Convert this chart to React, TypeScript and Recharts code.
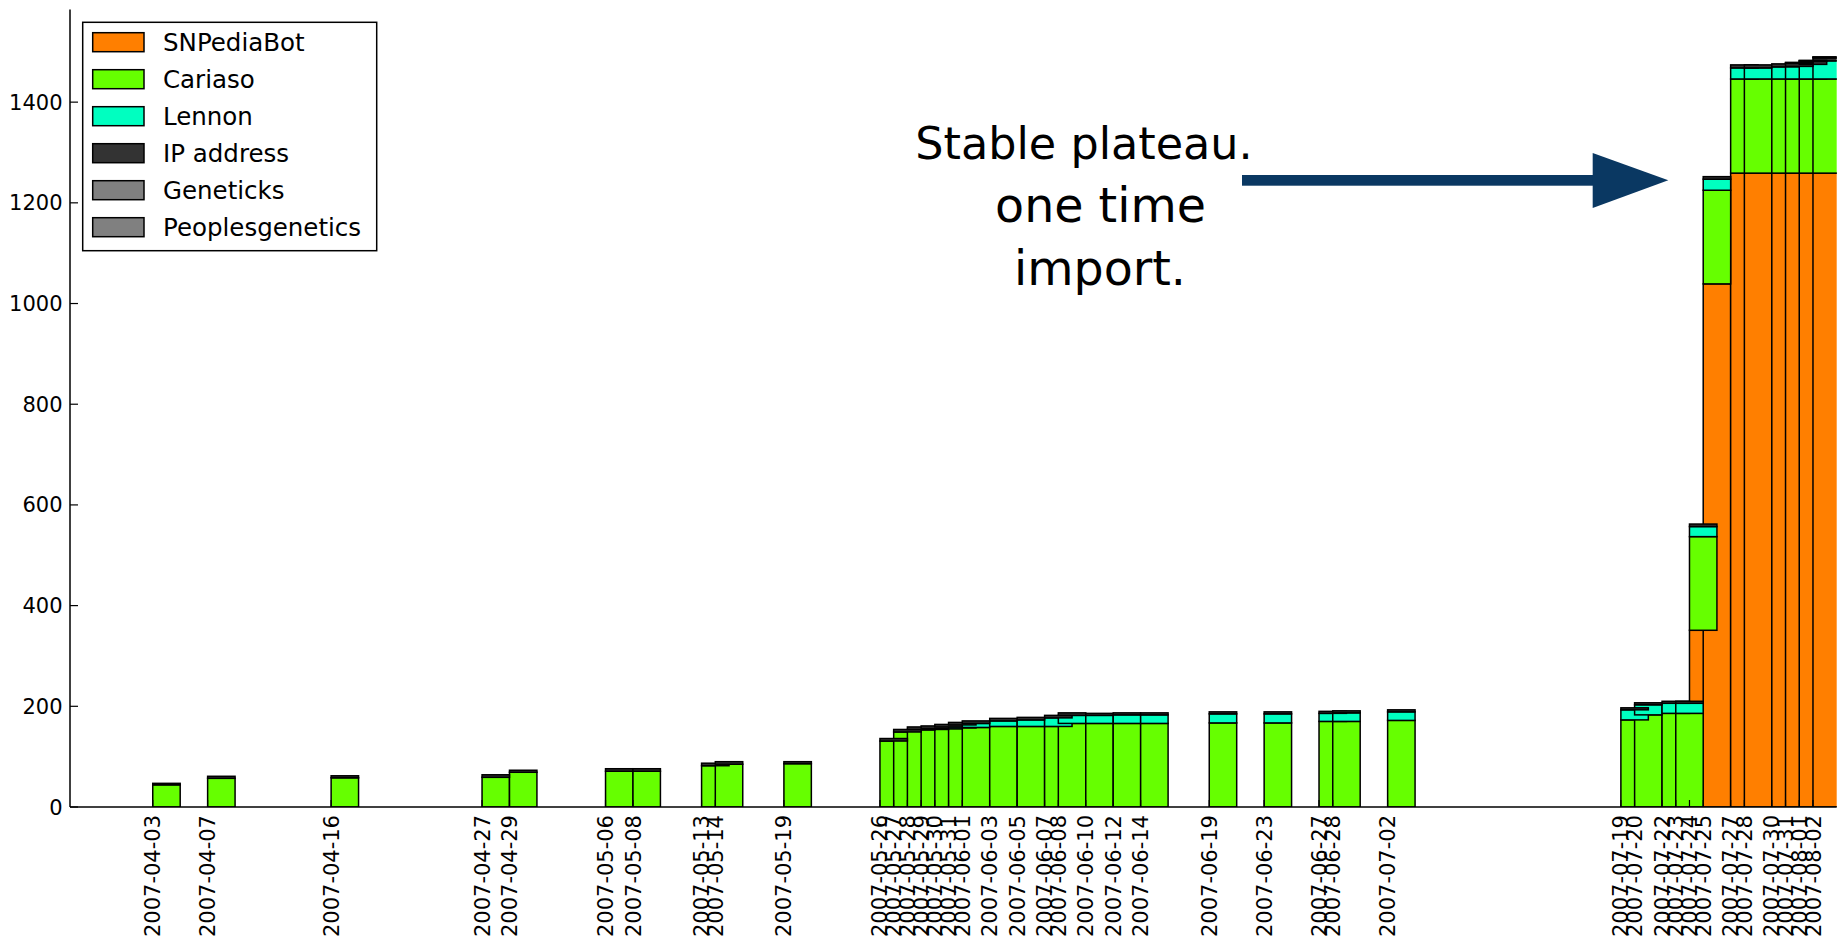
import React from 'react';
import { ComposedChart, Bar, XAxis, YAxis } from 'recharts';

const dates = [
  '2007-04-03', '2007-04-07', '2007-04-16', '2007-04-27', '2007-04-29', '2007-05-06', '2007-05-08',
  '2007-05-13', '2007-05-14', '2007-05-19', '2007-05-26', '2007-05-27', '2007-05-28', '2007-05-29',
  '2007-05-30', '2007-05-31', '2007-06-01', '2007-06-03', '2007-06-05', '2007-06-07', '2007-06-08',
  '2007-06-10', '2007-06-12', '2007-06-14', '2007-06-19', '2007-06-23', '2007-06-27', '2007-06-28',
  '2007-07-02', '2007-07-19', '2007-07-20', '2007-07-22', '2007-07-23', '2007-07-24', '2007-07-25',
  '2007-07-27', '2007-07-28', '2007-07-30', '2007-07-31', '2007-08-01', '2007-08-02',
];

const snpediabot = [
  0, 0, 0, 0, 0, 0, 0, 0, 0, 0, 0, 0, 0, 0, 0, 0, 0, 0, 0, 0, 0,
  0, 0, 0, 0, 0, 0, 0, 0, 0, 0, 0, 0, 351, 1039, 1259, 1259, 1259, 1259, 1259, 1259,
];
const cariaso = [
  44, 57, 58, 59, 69, 71, 71, 82, 85, 86, 131, 149, 153, 154, 155, 157, 158, 160, 160, 160, 166,
  166, 166, 166, 167, 167, 170, 170, 172, 173, 183, 186, 186, 186, 186, 187, 187, 187, 187, 187, 187,
];
const lennon = [
  0, 0, 0, 0, 0, 0, 0, 0, 0, 0, 0, 0, 1, 2, 4, 6, 8, 11, 13, 17, 16,
  16, 17, 17, 18, 18, 16, 17, 17, 20, 20, 20, 20, 20, 22, 22, 22, 24, 25, 29, 36,
];
const ipAddress = [
  3, 4, 4, 5, 4, 5, 5, 5, 5, 4, 5, 5, 5, 5, 5, 5, 5, 5, 5, 5, 5,
  4, 4, 4, 4, 4, 4, 4, 4, 4, 4, 4, 4, 5, 5, 6, 6, 6, 6, 6, 6,
];
const geneticks = [
  0, 0, 0, 0, 0, 0, 0, 0, 0, 0, 0, 0, 0, 0, 0, 0, 0, 0, 0, 0, 0,
  0, 0, 0, 0, 0, 0, 0, 0, 0, 0, 0, 0, 0, 0, 0, 0, 0, 1, 1, 1,
];
const peoplesgenetics = [
  0, 0, 0, 0, 0, 0, 0, 0, 0, 0, 0, 0, 0, 0, 0, 0, 0, 0, 0, 0, 0,
  0, 0, 0, 0, 0, 0, 0, 0, 0, 0, 0, 0, 0, 0, 0, 0, 0, 1, 1, 1,
];

const yTicks = [0, 200, 400, 600, 800, 1000, 1200, 1400];

const seriesKeys = ['snpediabot', 'cariaso', 'lennon', 'ip', 'geneticks', 'peoplesgenetics'];
const seriesNames = ['SNPediaBot', 'Cariaso', 'Lennon', 'IP address', 'Geneticks', 'Peoplesgenetics'];
const seriesColors = ['#ff7f00', '#66ff00', '#00ffc0', '#333333', '#808080', '#808080'];

const annotationLines = ['Stable plateau.', 'one time', 'import.'];

// ---- layout constants ----
const W = 1838;
const H = 940;
const PLOT_LEFT = 70;
const PLOT_RIGHT = 1836.7;
const PLOT_TOP = 9.5;
const PLOT_BOTTOM = 807;
const X_MIN = 86.97; // day of year
const X_MAX = 215.73;
const Y_MAX = 1584;
const BAR_DAYS = 2;
const BAR_PX = ((PLOT_RIGHT - PLOT_LEFT) / (X_MAX - X_MIN)) * BAR_DAYS;
const FONT = '"DejaVu Sans", Verdana, sans-serif';
const TICK_FONT = 21;

function dayOfYear(s: string): number {
  const [y, m, d] = s.split('-').map(Number);
  return (Date.UTC(y, m - 1, d) - Date.UTC(y, 0, 0)) / 86400000;
}

const days = dates.map(dayOfYear);
const labelByDay: Record<number, string> = {};
dates.forEach((d, i) => {
  labelByDay[days[i]] = d;
});

const seriesArrays = [snpediabot, cariaso, lennon, ipAddress, geneticks, peoplesgenetics];
const rows = dates.map((d, i) => {
  const r: Record<string, number | string> = { date: d, day: days[i], center: days[i] + BAR_DAYS / 2 };
  seriesKeys.forEach((k, j) => {
    r[k] = seriesArrays[j][i];
  });
  return r;
});

// Bar drawn two days wide, centred on the position the library computed.
const makeShape = (fill: string) => (p: any) => {
  const { x, y, width, height } = p;
  if (!height || !isFinite(height) || !isFinite(x)) return <g />;
  const cx = x + width / 2;
  return (
    <rect
      x={cx - BAR_PX / 2}
      y={y}
      width={BAR_PX}
      height={height}
      fill={fill}
      stroke="#000"
      strokeWidth={1.5}
    />
  );
};

const DateTick = (props: any) => {
  const { x, y, payload } = props;
  return (
    <text
      x={x}
      y={y}
      transform={`rotate(-90 ${x} ${y})`}
      textAnchor="end"
      dy="0.36em"
      fontSize={TICK_FONT}
      fontFamily={FONT}
      fill="#000"
    >
      {labelByDay[payload.value]}
    </text>
  );
};

const ValueTick = (props: any) => {
  const { x, y, payload } = props;
  return (
    <text x={x} y={y} textAnchor="end" dy="0.36em" fontSize={TICK_FONT} fontFamily={FONT} fill="#000">
      {payload.value}
    </text>
  );
};

const axisLineStyle = { stroke: '#000', strokeWidth: 1.5 };
const tickLineStyle = { stroke: '#000', strokeWidth: 1.2 };

export default function App() {
  return (
    <div style={{ position: 'absolute', left: 0, top: 0, width: W, height: H, background: '#fff' }}>
      <ComposedChart
        width={W}
        height={H}
        data={rows}
        margin={{ top: PLOT_TOP, right: W - PLOT_RIGHT, bottom: 8, left: 0 }}
      >
        <XAxis
          xAxisId="bars"
          dataKey="center"
          type="number"
          domain={[X_MIN, X_MAX]}
          allowDataOverflow
          height={0}
          hide
        />
        <YAxis
          yAxisId="left"
          type="number"
          domain={[0, Y_MAX]}
          allowDataOverflow
          ticks={yTicks}
          interval={0}
          width={PLOT_LEFT}
          tickSize={-8}
          tickMargin={15.5}
          tick={<ValueTick />}
          axisLine={axisLineStyle}
          tickLine={tickLineStyle}
        />
        {seriesKeys.map((k, j) => (
          <Bar
            key={k}
            xAxisId="bars"
            yAxisId="left"
            dataKey={k}
            name={seriesNames[j]}
            stackId="s"
            fill={seriesColors[j]}
            stroke="#000"
            strokeWidth={1.5}
            shape={makeShape(seriesColors[j])}
            isAnimationActive={false}
          />
        ))}
        <XAxis
          xAxisId="labels"
          dataKey="day"
          type="number"
          domain={[X_MIN, X_MAX]}
          allowDataOverflow
          ticks={days}
          interval={0}
          height={H - 8 - PLOT_BOTTOM}
          tickSize={-7}
          tickMargin={15}
          tick={<DateTick />}
          axisLine={axisLineStyle}
          tickLine={tickLineStyle}
        />
        <XAxis
          xAxisId="top"
          orientation="top"
          dataKey="day"
          type="number"
          domain={[X_MIN, X_MAX]}
          allowDataOverflow
          ticks={days}
          interval={0}
          height={0}
          tickSize={-7}
          tick={false}
          axisLine={axisLineStyle}
          tickLine={tickLineStyle}
        />
        <YAxis
          yAxisId="right"
          orientation="right"
          type="number"
          domain={[0, Y_MAX]}
          allowDataOverflow
          ticks={yTicks}
          interval={0}
          width={0}
          tickSize={-7}
          tick={false}
          axisLine={axisLineStyle}
          tickLine={tickLineStyle}
        />
      </ComposedChart>
      <svg
        width={W}
        height={H}
        style={{ position: 'absolute', left: 0, top: 0, pointerEvents: 'none' }}
      >
        <rect x={82.7} y={22.3} width={294} height={228.4} fill="#fff" stroke="#000" strokeWidth={1.5} />
        {seriesNames.map((n, i) => (
          <g key={n}>
            <rect
              x={92.7}
              y={32.7 + 37 * i}
              width={51.3}
              height={19}
              fill={seriesColors[i]}
              stroke="#000"
              strokeWidth={1.5}
            />
            <text x={163} y={50.7 + 37 * i} fontSize={24.5} fontFamily={FONT} fill="#000">
              {n}
            </text>
          </g>
        ))}
        {annotationLines.map((t, i) => (
          <text
            key={t}
            x={[1084, 1100.5, 1100][i]}
            y={159 + 63 * i}
            textAnchor="middle"
            fontSize={[44.5, 47.5, 47.5][i]}
            fontFamily={FONT}
            fill="#000"
          >
            {t}
          </text>
        ))}
        <rect x={1242} y={175} width={352} height={10.7} fill="#0a3862" />
        <polygon points="1592.7,153 1668.3,180.3 1592.7,208" fill="#0a3862" />
      </svg>
    </div>
  );
}
